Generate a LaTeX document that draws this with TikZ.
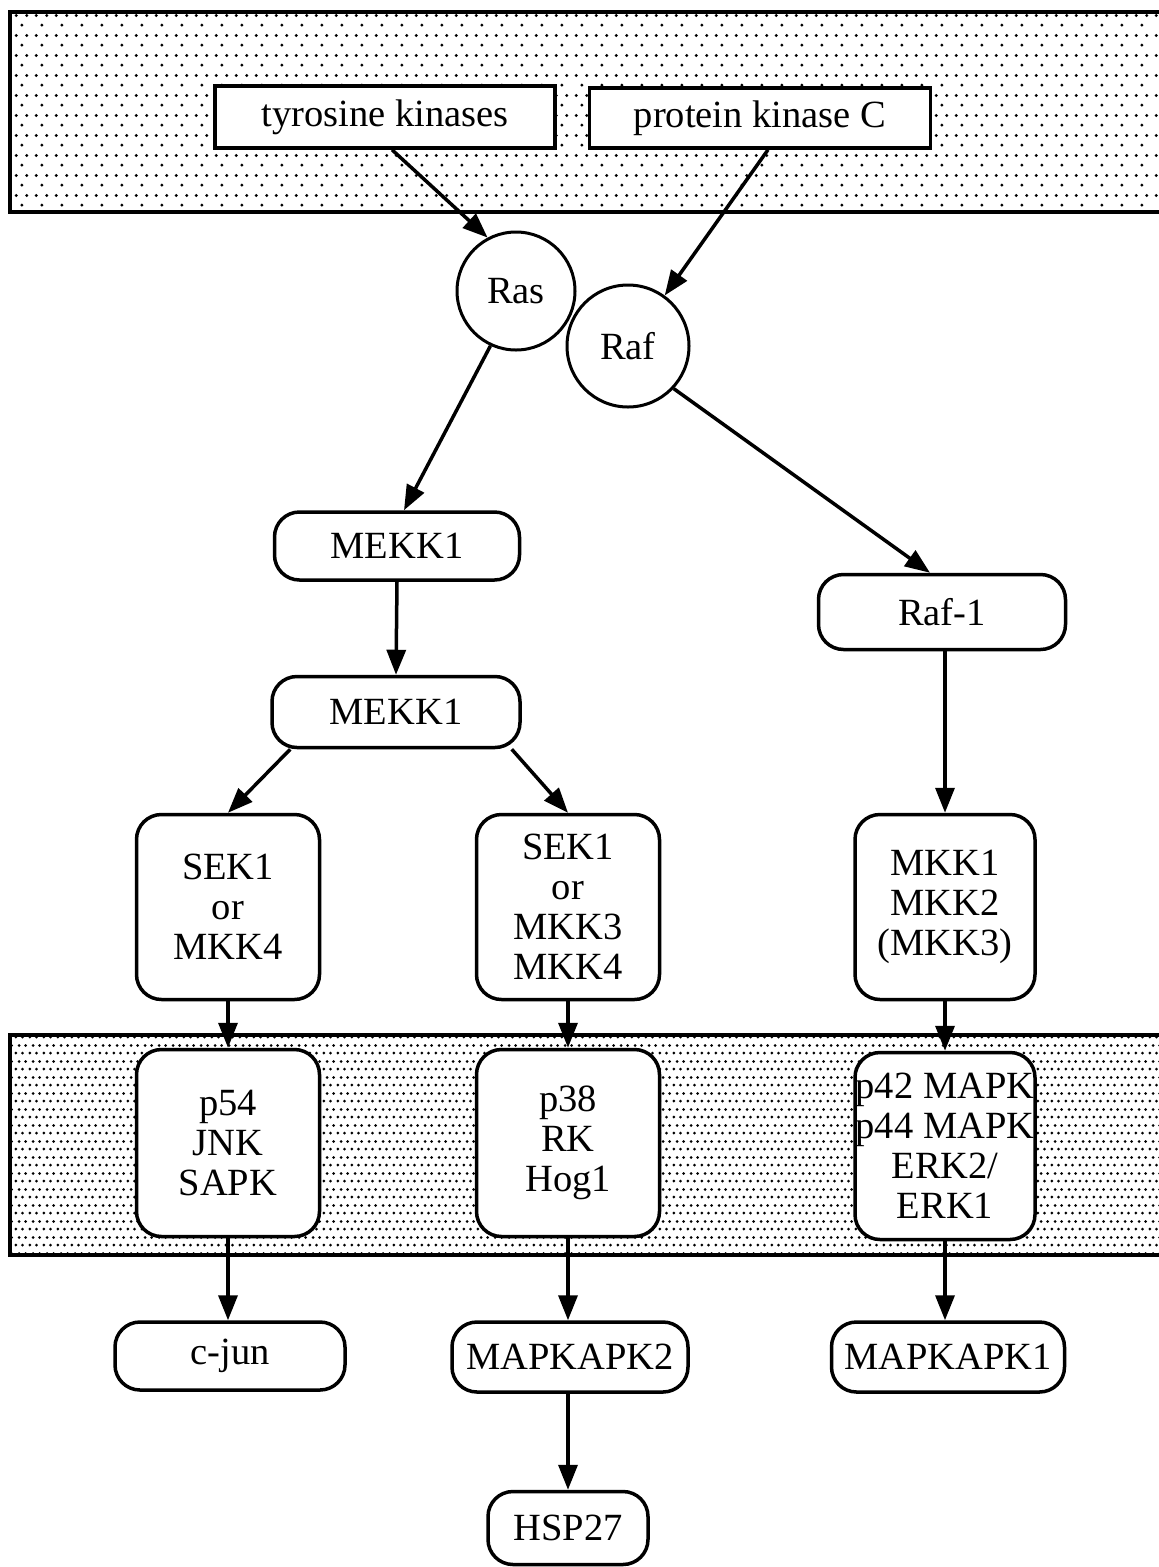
\documentclass[tikz,border=0pt]{standalone}
\usepackage{fontspec}
\setmainfont{Liberation Serif}
\usetikzlibrary{arrows.meta,patterns,calc}
\pgfdeclarepatternformonly{stippletop}{\pgfqpoint{0pt}{0pt}}{\pgfqpoint{20pt}{20pt}}{\pgfqpoint{20pt}{20pt}}{%
  \pgfpathcircle{\pgfqpoint{2pt}{2pt}}{1.7pt}%
  \pgfpathcircle{\pgfqpoint{7pt}{12pt}}{1.7pt}%
  \pgfpathcircle{\pgfqpoint{17pt}{12pt}}{1.7pt}%
  \pgfusepath{fill}}
\pgfdeclarepatternformonly{stipplebot}{\pgfqpoint{0pt}{0pt}}{\pgfqpoint{14pt}{16pt}}{\pgfqpoint{14pt}{16pt}}{%
  \pgfpathcircle{\pgfqpoint{2pt}{2pt}}{1.6pt}%
  \pgfpathcircle{\pgfqpoint{9pt}{2pt}}{1.6pt}%
  \pgfpathcircle{\pgfqpoint{5.5pt}{10pt}}{1.6pt}%
  \pgfpathcircle{\pgfqpoint{12.5pt}{10pt}}{1.6pt}%
  \pgfusepath{fill}}
\tikzset{
  band/.style={draw, line width=3.5pt},
  sqbox/.style={draw, fill=white, line width=3.5pt, inner sep=0pt, align=center},
  rbox/.style={draw, fill=white, line width=3.5pt, rounded corners=25pt, inner sep=0pt, align=center},
  circnode/.style={draw, fill=white, circle, line width=3pt, inner sep=0pt, minimum size=118pt},
  arr/.style={line width=3.5pt, -{Triangle[length=25pt,width=19pt]}},
}
\begin{document}
\begin{tikzpicture}[x=1pt,y=-1pt,font=\fontsize{38.5}{40}\selectfont]
\useasboundingbox (0,0) rectangle (1159,1567);
% bands
\draw[band, pattern=stippletop] (10,12) rectangle (1175,212);
\draw[band, pattern=stipplebot] (10,1035) rectangle (1175,1255);
% top boxes
\node[sqbox, minimum width=340pt, minimum height=62pt] (tk) at (385,117) {tyrosine kinases};
\node[sqbox, minimum width=341pt, minimum height=60pt] (pkc) at (760,118) {protein kinase C};
% circles
\node[circnode, minimum size=122pt] (raf) at (628,346) {Raf};
\node[circnode] (ras) at (516,291) {Ras};
% rounded boxes
\node[rbox, minimum width=245pt, minimum height=68pt] (mekka) at (397,546) {MEKK1};
\node[rbox, minimum width=248pt, minimum height=71pt] (mekkb) at (396,712) {MEKK1};
\node[rbox, minimum width=247pt, minimum height=75pt] (raf1) at (942,612) {Raf-1};
\node[rbox, minimum width=183pt, minimum height=185pt] (sekA) at (228,907) {SEK1\\or\\MKK4};
\node[rbox, minimum width=183pt, minimum height=185pt] (sekB) at (568,907) {SEK1\\or\\MKK3\\MKK4};
\node[rbox, minimum width=180pt, minimum height=185pt] (mkk) at (945,907) {MKK1\\MKK2\\(MKK3)};
\node[rbox, minimum width=183pt, minimum height=187pt] (p54) at (228,1143) {p54\\JNK\\SAPK};
\node[rbox, minimum width=183pt, minimum height=187pt] (p38) at (568,1143) {p38\\RK\\Hog1};
\node[rbox, minimum width=180pt, minimum height=187pt] (p42) at (945,1146) {p42 MAPK\\p44 MAPK\\ERK2/\\ERK1};
\node[rbox, minimum width=230pt, minimum height=68pt] (cjun) at (230,1356) {c-jun};
\node[rbox, minimum width=236pt, minimum height=70pt] (mk2) at (570,1357) {MAPKAPK2};
\node[rbox, minimum width=233pt, minimum height=70pt] (mk1) at (948,1357) {MAPKAPK1};
\node[rbox, minimum width=160pt, minimum height=73pt] (hsp) at (568,1528) {HSP27};
% connectors
\draw[arr] ($(tk.south)+(7,0)$) -- (ras.118);
\draw[arr] ($(pkc.south)+(8,0)$) -- (raf.54);
\draw[arr] (ras.245) -- ($(mekka.north)+(7,0)$);
\draw[arr] (mekka.south) -- (mekkb.north);
\draw[arr] (raf.-43) -- ($(raf1.north)+(-12,0)$);
\draw[arr] (raf1.south -| mkk.north) -- (mkk.north);
\draw[arr] ($(mekkb.south west)+(20,0)$) -- (sekA.north);
\draw[arr] ($(mekkb.south east)+(-10,0)$) -- (sekB.north);
\draw[arr] (sekA.south) -- (p54.north);
\draw[arr] (sekB.south) -- (p38.north);
\draw[arr] (mkk.south) -- (p42.north);
\draw[arr] (p54.south) -- (p54.south |- cjun.north);
\draw[arr] (p38.south) -- (p38.south |- mk2.north);
\draw[arr] (p42.south) -- (p42.south |- mk1.north);
\draw[arr] (mk2.south -| hsp.north) -- (hsp.north);
\end{tikzpicture}
\end{document}
